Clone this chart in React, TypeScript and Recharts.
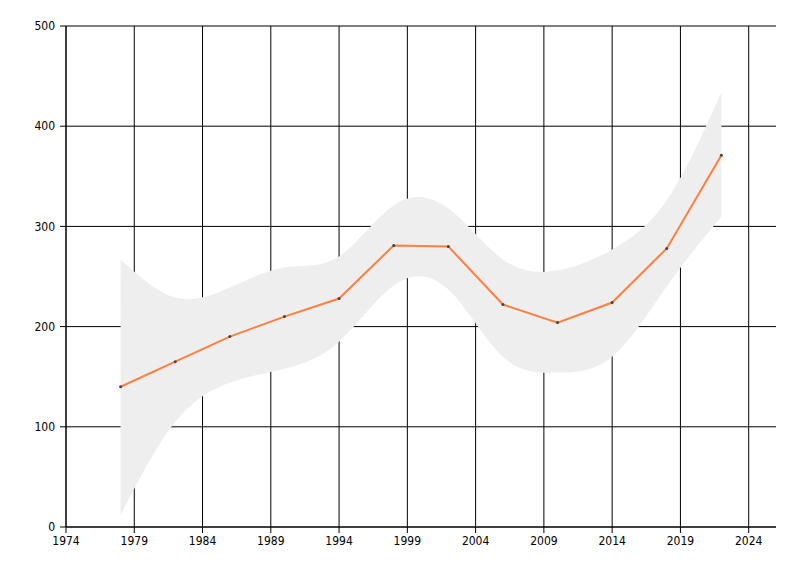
import React from 'react';
import {
  Area,
  CartesianGrid,
  ComposedChart,
  Line,
  XAxis,
  YAxis,
} from 'recharts';

// years sampled every 4 years
const years = [1978, 1982, 1986, 1990, 1994, 1998, 2002, 2006, 2010, 2014, 2018, 2022];
const values = [140, 165, 190, 210, 228, 281, 280, 222, 204, 224, 278, 371];

// confidence band around the line
const bandLow = [12, 105, 144, 158, 185, 241, 237, 170, 154, 170, 240, 310];
const bandHigh = [267, 229, 239, 259, 270, 321, 318, 267, 256, 277, 326, 434];

const xTicks = [1974, 1979, 1984, 1989, 1994, 1999, 2004, 2009, 2014, 2019, 2024];
const yTicks = [0, 100, 200, 300, 400, 500];
const X_DOMAIN = [1974, 2026];

const lineData = years.map((year, i) => ({ year, value: values[i] }));
const bandData = years.map((year, i) => ({ year, band: [bandLow[i], bandHigh[i]] }));

const FONT = "'Liberation Sans Narrow', 'DejaVu Sans Condensed', sans-serif";
const tickStyle = { fontSize: 12, fontFamily: FONT, fill: '#000' };

const Dot = (props: any) => {
  const { cx, cy } = props;
  if (cx == null || cy == null) return null;
  return <circle cx={cx} cy={cy} r={1.5} fill="#444" />;
};

// only the tick positions, no border line on the right
const verticalLines = (props: any) => {
  const { xAxis, offset } = props;
  if (xAxis && typeof xAxis.scale === 'function') {
    return xTicks.map((t) => xAxis.scale(t));
  }
  const span = X_DOMAIN[1] - X_DOMAIN[0];
  return xTicks.map((t) => offset.left + ((t - X_DOMAIN[0]) / span) * offset.width);
};

export default function App() {
  return (
    <div style={{ position: 'absolute', left: 0, top: 0, background: '#fff' }}>
      <ComposedChart
        width={800}
        height={576}
        margin={{ top: 26, right: 24, bottom: 19, left: 0 }}
      >
        <CartesianGrid
          stroke="#000"
          strokeWidth={1}
          verticalCoordinatesGenerator={verticalLines}
        />
        <XAxis
          type="number"
          dataKey="year"
          domain={X_DOMAIN}
          ticks={xTicks}
          allowDataOverflow
          height={30}
          stroke="#000"
          tick={tickStyle}
          tickSize={6}
          tickMargin={3}
        />
        <YAxis
          type="number"
          domain={[0, 500]}
          ticks={yTicks}
          width={66}
          stroke="#000"
          tick={tickStyle}
          tickSize={6}
          tickMargin={5}
        />
        <Area
          data={bandData}
          dataKey="band"
          type="natural"
          stroke="none"
          fill="#eeeeee"
          fillOpacity={1}
          isAnimationActive={false}
        />
        <Line
          data={lineData}
          dataKey="value"
          type="linear"
          stroke="#ff7f3f"
          strokeWidth={2}
          dot={<Dot />}
          activeDot={false}
          isAnimationActive={false}
        />
      </ComposedChart>
    </div>
  );
}
